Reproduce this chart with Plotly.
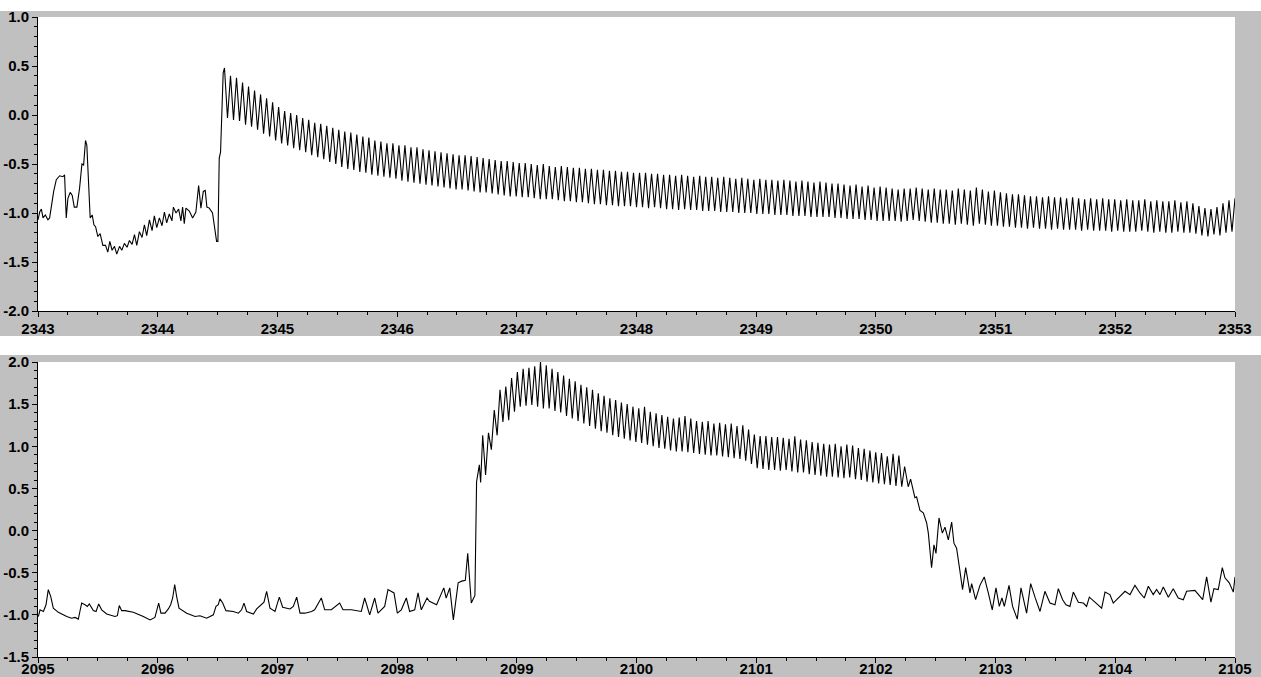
import numpy as np
import plotly.graph_objects as go

# ---------------- upper record: 2343 - 2353 ----------------
top_pre_t = [2343.000, 2343.014, 2343.028, 2343.042, 2343.061, 2343.083, 2343.097, 2343.111,
             2343.131, 2343.153, 2343.181, 2343.208, 2343.222, 2343.236, 2343.250, 2343.269,
             2343.286, 2343.303, 2343.325, 2343.347, 2343.367, 2343.381, 2343.397, 2343.408,
             2343.425, 2343.436, 2343.453, 2343.467, 2343.481, 2343.500, 2343.519, 2343.542,
             2343.564, 2343.583, 2343.600, 2343.619, 2343.639, 2343.658, 2343.681, 2343.700,
             2343.722, 2343.744, 2343.764, 2343.786, 2343.806, 2343.825, 2343.847, 2343.869,
             2343.889, 2343.908, 2343.931, 2343.953, 2343.972, 2343.992, 2344.014, 2344.036,
             2344.056, 2344.075, 2344.097, 2344.119, 2344.131, 2344.153, 2344.175, 2344.194,
             2344.208, 2344.222, 2344.236, 2344.264, 2344.292, 2344.319, 2344.342, 2344.361,
             2344.381, 2344.397, 2344.411, 2344.431, 2344.458, 2344.478, 2344.492, 2344.503,
             2344.514, 2344.525, 2344.536, 2344.547]
top_pre_v = [-1.07, -0.99, -0.96, -1.05, -1.02, -1.07, -1.05, -0.92,
             -0.78, -0.66, -0.62, -0.63, -0.61, -1.05, -0.85, -0.79,
             -0.82, -0.94, -0.94, -0.75, -0.50, -0.51, -0.26, -0.31,
             -0.85, -1.05, -1.02, -1.12, -1.14, -1.24, -1.21, -1.33,
             -1.33, -1.40, -1.29, -1.38, -1.34, -1.42, -1.34, -1.38,
             -1.31, -1.35, -1.28, -1.32, -1.22, -1.33, -1.19, -1.25,
             -1.12, -1.23, -1.07, -1.18, -1.03, -1.15, -1.05, -1.13,
             -0.99, -1.10, -1.01, -1.08, -0.94, -1.00, -0.96, -1.08,
             -0.94, -1.11, -0.95, -0.98, -1.05, -0.99, -0.72, -0.95,
             -0.78, -0.77, -0.94, -0.95, -1.00, -1.19, -1.29, -1.29,
             -0.44, -0.38, 0.17, 0.43]

# oscillating part: successive crest and trough values, evenly spaced in time
top_osc_start = 2344.558
top_osc_end = 2353.0
top_peaks = [
    0.48, 0.40, 0.38, 0.33, 0.29, 0.25, 0.21, 0.17, 0.13, 0.08,
    0.04, 0.02, 0.00, -0.03, -0.05, -0.08, -0.09, -0.11, -0.13, -0.15,
    -0.17, -0.18, -0.20, -0.22, -0.23, -0.26, -0.27, -0.29, -0.29, -0.31,
    -0.31, -0.33, -0.33, -0.35, -0.36, -0.37, -0.38, -0.39, -0.40, -0.41,
    -0.41, -0.42, -0.43, -0.44, -0.45, -0.46, -0.47, -0.47, -0.48, -0.49,
    -0.49, -0.50, -0.51, -0.50, -0.52, -0.53, -0.52, -0.53, -0.54, -0.54,
    -0.55, -0.55, -0.56, -0.56, -0.57, -0.57, -0.58, -0.58, -0.59, -0.59,
    -0.59, -0.60, -0.60, -0.61, -0.61, -0.62, -0.61, -0.62, -0.63, -0.62,
    -0.63, -0.63, -0.64, -0.63, -0.64, -0.65, -0.64, -0.65, -0.66, -0.65,
    -0.66, -0.66, -0.67, -0.66, -0.67, -0.68, -0.67, -0.68, -0.69, -0.68,
    -0.69, -0.70, -0.70, -0.71, -0.72, -0.71, -0.73, -0.72, -0.74, -0.73,
    -0.74, -0.75, -0.76, -0.75, -0.75, -0.74, -0.75, -0.76, -0.75, -0.76,
    -0.76, -0.77, -0.75, -0.76, -0.77, -0.74, -0.76, -0.78, -0.77, -0.79,
    -0.80, -0.81, -0.81, -0.82, -0.83, -0.83, -0.84, -0.83, -0.84, -0.84,
    -0.85, -0.84, -0.85, -0.86, -0.85, -0.86, -0.85, -0.86, -0.86, -0.87,
    -0.86, -0.87, -0.87, -0.86, -0.88, -0.87, -0.88, -0.88, -0.87, -0.89,
    -0.88, -0.90, -0.93, -0.95, -0.96, -0.94, -0.90, -0.87, -0.85]
top_troughs = [
    -0.03, -0.05, -0.06, -0.10, -0.12, -0.15, -0.19, -0.22, -0.26, -0.29,
    -0.31, -0.34, -0.36, -0.38, -0.41, -0.43, -0.45, -0.48, -0.50, -0.53,
    -0.55, -0.56, -0.58, -0.59, -0.61, -0.62, -0.63, -0.64, -0.65, -0.67,
    -0.68, -0.69, -0.70, -0.71, -0.72, -0.73, -0.74, -0.75, -0.76, -0.76,
    -0.77, -0.78, -0.79, -0.79, -0.80, -0.81, -0.82, -0.83, -0.83, -0.84,
    -0.84, -0.85, -0.86, -0.86, -0.86, -0.87, -0.88, -0.88, -0.89, -0.89,
    -0.90, -0.91, -0.91, -0.92, -0.92, -0.93, -0.93, -0.93, -0.94, -0.94,
    -0.95, -0.94, -0.95, -0.96, -0.96, -0.97, -0.96, -0.97, -0.97, -0.98,
    -0.98, -0.98, -0.99, -0.99, -0.99, -1.00, -1.00, -1.00, -1.01, -1.01,
    -1.01, -1.02, -1.02, -1.02, -1.03, -1.03, -1.03, -1.04, -1.04, -1.04,
    -1.04, -1.05, -1.05, -1.06, -1.06, -1.06, -1.07, -1.07, -1.08, -1.08,
    -1.08, -1.08, -1.09, -1.08, -1.07, -1.08, -1.09, -1.10, -1.10, -1.11,
    -1.11, -1.12, -1.11, -1.12, -1.13, -1.11, -1.12, -1.13, -1.13, -1.14,
    -1.14, -1.15, -1.15, -1.16, -1.15, -1.16, -1.16, -1.17, -1.16, -1.17,
    -1.17, -1.17, -1.18, -1.17, -1.18, -1.18, -1.18, -1.19, -1.18, -1.19,
    -1.19, -1.19, -1.18, -1.19, -1.20, -1.19, -1.20, -1.20, -1.19, -1.20,
    -1.20, -1.21, -1.23, -1.24, -1.22, -1.23, -1.20, -1.19]

# ---------------- lower record: 2095 - 2105 ----------------
bot_pre_t = [2095.003, 2095.017, 2095.045, 2095.067, 2095.086, 2095.106, 2095.128, 2095.170,
             2095.240, 2095.281, 2095.309, 2095.337, 2095.350, 2095.365, 2095.393, 2095.412,
             2095.429, 2095.462, 2095.485, 2095.507, 2095.532, 2095.574, 2095.643, 2095.663,
             2095.679, 2095.699, 2095.727, 2095.769, 2095.796, 2095.880, 2095.936, 2095.977,
             2095.991, 2096.008, 2096.027, 2096.061, 2096.089, 2096.108, 2096.125, 2096.142,
             2096.158, 2096.178, 2096.242, 2096.312, 2096.353, 2096.409, 2096.465, 2096.487,
             2096.506, 2096.520, 2096.543, 2096.570, 2096.632, 2096.674, 2096.701, 2096.721,
             2096.743, 2096.799, 2096.827, 2096.855, 2096.888, 2096.910, 2096.938, 2096.980,
             2097.016, 2097.044, 2097.105, 2097.133, 2097.161, 2097.189, 2097.230, 2097.286,
             2097.311, 2097.367, 2097.395, 2097.451, 2097.520, 2097.548, 2097.618, 2097.701,
             2097.729, 2097.771, 2097.813, 2097.840, 2097.896, 2097.924, 2097.974, 2098.002,
             2098.035, 2098.077, 2098.105, 2098.147, 2098.175, 2098.202, 2098.250, 2098.270,
             2098.330, 2098.390, 2098.410, 2098.440, 2098.470, 2098.510, 2098.540, 2098.570,
             2098.590, 2098.620, 2098.650, 2098.664, 2098.687, 2098.698]
bot_pre_v = [-1.02, -0.94, -0.96, -0.88, -0.70, -0.78, -0.92, -0.97,
             -1.02, -1.04, -1.03, -1.05, -0.96, -0.86, -0.88, -0.90,
             -0.87, -0.95, -0.96, -0.87, -0.94, -0.99, -1.02, -1.01,
             -0.89, -0.95, -0.95, -0.96, -0.97, -1.02, -1.06, -1.03,
             -0.95, -0.86, -0.98, -0.98, -0.93, -0.88, -0.80, -0.64,
             -0.78, -0.92, -0.98, -1.02, -1.01, -1.04, -1.00, -0.90,
             -0.88, -0.81, -0.86, -0.95, -0.96, -0.98, -0.94, -0.86,
             -0.96, -0.99, -0.93, -0.89, -0.85, -0.72, -0.92, -0.96,
             -0.79, -0.91, -0.93, -0.90, -0.79, -0.98, -0.98, -0.96,
             -0.94, -0.80, -0.94, -0.94, -0.86, -0.94, -0.94, -0.96,
             -0.80, -1.00, -0.80, -0.98, -0.90, -0.70, -0.74, -0.98,
             -0.94, -0.80, -0.96, -0.94, -0.74, -0.94, -0.80, -0.84,
             -0.88, -0.68, -0.80, -0.68, -1.06, -0.62, -0.60, -0.59,
             -0.27, -0.86, -0.77, 0.58, 0.78, 0.57]

bot_osc_start = 2098.715
bot_osc_end = 2102.240
bot_peaks = [
    1.13, 1.16, 1.43, 1.67, 1.71, 1.81, 1.88, 1.92, 1.93, 1.95,
    2.00, 1.96, 1.92, 1.88, 1.84, 1.80, 1.77, 1.73, 1.70, 1.67,
    1.63, 1.60, 1.57, 1.55, 1.52, 1.50, 1.47, 1.45, 1.47, 1.41,
    1.39, 1.37, 1.35, 1.33, 1.34, 1.36, 1.33, 1.30, 1.29, 1.30,
    1.27, 1.28, 1.26, 1.27, 1.24, 1.25, 1.20, 1.14, 1.12, 1.12,
    1.11, 1.11, 1.10, 1.09, 1.12, 1.08, 1.07, 1.05, 1.04, 1.03,
    1.02, 1.03, 1.00, 1.02, 1.01, 0.98, 0.97, 0.95, 0.93, 0.92,
    0.88, 0.91, 0.89, 0.76]
bot_troughs = [
    0.66, 0.96, 1.13, 1.29, 1.31, 1.41, 1.47, 1.48, 1.49, 1.47,
    1.45, 1.45, 1.42, 1.40, 1.36, 1.33, 1.30, 1.27, 1.24, 1.21,
    1.18, 1.16, 1.13, 1.11, 1.09, 1.07, 1.05, 1.04, 1.02, 1.00,
    0.98, 0.97, 0.95, 0.94, 0.94, 0.93, 0.92, 0.91, 0.90, 0.89,
    0.89, 0.88, 0.87, 0.86, 0.85, 0.83, 0.79, 0.74, 0.73, 0.72,
    0.72, 0.71, 0.72, 0.70, 0.69, 0.69, 0.67, 0.66, 0.65, 0.64,
    0.64, 0.63, 0.62, 0.63, 0.61, 0.60, 0.58, 0.57, 0.56, 0.55,
    0.54, 0.53, 0.52]

bot_post_t = [2102.270, 2102.290, 2102.326, 2102.340, 2102.368, 2102.396, 2102.424, 2102.438,
              2102.465, 2102.485, 2102.502, 2102.527, 2102.555, 2102.577, 2102.605, 2102.633,
              2102.652, 2102.674, 2102.697, 2102.724, 2102.750, 2102.786, 2102.800, 2102.833,
              2102.869, 2102.905, 2102.939, 2102.972, 2103.003, 2103.031, 2103.053, 2103.073,
              2103.112, 2103.142, 2103.181, 2103.212, 2103.259, 2103.293, 2103.329, 2103.371,
              2103.412, 2103.454, 2103.496, 2103.524, 2103.560, 2103.588, 2103.621, 2103.649,
              2103.691, 2103.733, 2103.760, 2103.783, 2103.830, 2103.886, 2103.914, 2103.955,
              2103.983, 2104.025, 2104.081, 2104.123, 2104.164, 2104.206, 2104.242, 2104.276,
              2104.317, 2104.345, 2104.373, 2104.401, 2104.443, 2104.484, 2104.526, 2104.568,
              2104.596, 2104.665, 2104.730, 2104.763, 2104.799, 2104.824, 2104.860, 2104.894,
              2104.916, 2104.952, 2104.986, 2105.000]
bot_post_v = [0.52, 0.61, 0.39, 0.40, 0.24, 0.21, 0.09, -0.03,
              -0.44, -0.17, -0.27, 0.15, -0.03, 0.04, -0.11, 0.10,
              -0.15, -0.21, -0.43, -0.70, -0.44, -0.74, -0.63, -0.82,
              -0.65, -0.55, -0.74, -0.94, -0.68, -0.90, -0.80, -0.90,
              -0.65, -0.90, -1.05, -0.68, -0.98, -0.63, -0.79, -0.96,
              -0.72, -0.86, -0.88, -0.69, -0.82, -0.88, -0.90, -0.73,
              -0.85, -0.86, -0.90, -0.79, -0.85, -0.92, -0.73, -0.76,
              -0.86, -0.80, -0.72, -0.76, -0.65, -0.74, -0.80, -0.66,
              -0.76, -0.70, -0.76, -0.67, -0.79, -0.69, -0.80, -0.82,
              -0.72, -0.71, -0.82, -0.55, -0.85, -0.69, -0.70, -0.44,
              -0.56, -0.62, -0.73, -0.55]

# axis ranges and tick labels
top_xrange = [2343, 2353]
top_yrange = [-2.0, 1.0]
bot_xrange = [2095, 2105]
bot_yrange = [-1.5, 2.0]
top_xticks = [2343, 2344, 2345, 2346, 2347, 2348, 2349, 2350, 2351, 2352, 2353]
bot_xticks = [2095, 2096, 2097, 2098, 2099, 2100, 2101, 2102, 2103, 2104, 2105]
top_yticks = [-2.0, -1.5, -1.0, -0.5, 0.0, 0.5, 1.0]
top_ylabels = ["-2.0", "-1.5", "-1.0", "-0.5", "0.0", "0.5", "1.0"]
bot_yticks = [-1.5, -1.0, -0.5, 0.0, 0.5, 1.0, 1.5, 2.0]
bot_ylabels = ["-1.5", "-1.0", "-0.5", "0.0", "0.5", "1.0", "1.5", "2.0"]


def crest_trough_series(start, end, crests, troughs):
    vals = []
    for c, t in zip(crests, troughs):
        vals += [c, t]
    vals.append(crests[len(troughs)])
    times = np.linspace(start, end, len(vals))
    return list(times), vals


t_osc, v_osc = crest_trough_series(top_osc_start, top_osc_end, top_peaks, top_troughs)
top_t = top_pre_t + t_osc
top_v = top_pre_v + v_osc

b_osc_t, b_osc_v = crest_trough_series(bot_osc_start, bot_osc_end, bot_peaks, bot_troughs)
bot_t = bot_pre_t + b_osc_t + bot_post_t
bot_v = bot_pre_v + b_osc_v + bot_post_v

W, H = 1261, 677
GRAY = "#C0C0C0"

fig = go.Figure()
fig.add_trace(go.Scatter(x=top_t, y=top_v, mode="lines", xaxis="x", yaxis="y",
                         line=dict(color="black", width=1.1), showlegend=False))
fig.add_trace(go.Scatter(x=bot_t, y=bot_v, mode="lines", xaxis="x2", yaxis="y2",
                         line=dict(color="black", width=1.1), showlegend=False))

tickfont = dict(family="Liberation Sans Narrow, Liberation Sans, Arial, sans-serif",
                size=15, color="black", weight="bold")


def xaxis_style(rng, ticks, anchor, standoff):
    return dict(range=rng, domain=[38 / W, 1235 / W], anchor=anchor,
                tickmode="array", tickvals=ticks, ticktext=[str(t) for t in ticks],
                ticks="outside", ticklen=5, tickwidth=1, tickcolor="black",
                ticklabelstandoff=standoff,
                showline=True, linecolor="black", linewidth=1, mirror=False,
                showgrid=False, zeroline=False, tickfont=tickfont, automargin=False,
                minor=dict(dtick=0.25, tick0=rng[0], ticks="outside", ticklen=3,
                           tickcolor="black", tickwidth=1, showgrid=False))


def yaxis_style(rng, ticks, labels, anchor, top_px, bottom_px):
    return dict(range=rng, domain=[1 - bottom_px / H, 1 - top_px / H], anchor=anchor,
                tickmode="array", tickvals=ticks, ticktext=labels,
                ticks="outside", ticklen=5, tickwidth=1, tickcolor="black",
                showline=True, linecolor="black", linewidth=1, mirror=False,
                showgrid=False, zeroline=False, tickfont=tickfont, automargin=False,
                minor=dict(dtick=0.1, tick0=0, ticks="outside", ticklen=3,
                           tickcolor="black", tickwidth=1, showgrid=False))


fig.update_layout(
    width=W, height=H,
    margin=dict(l=0, r=0, t=0, b=0),
    paper_bgcolor=GRAY,
    plot_bgcolor="white",
    xaxis=xaxis_style(top_xrange, top_xticks, "y", -1),
    yaxis=yaxis_style(top_yrange, top_yticks, top_ylabels, "x", 17, 311),
    xaxis2=xaxis_style(bot_xrange, bot_xticks, "y2", -7),
    yaxis2=yaxis_style(bot_yrange, bot_yticks, bot_ylabels, "x2", 362, 657),
    shapes=[
        dict(type="rect", xref="paper", yref="paper", x0=0, x1=1, y0=1 - 11 / H, y1=1,
             fillcolor="white", line=dict(width=0), layer="below"),
        dict(type="rect", xref="paper", yref="paper", x0=0, x1=1, y0=1 - 355 / H, y1=1 - 336 / H,
             fillcolor="white", line=dict(width=0), layer="below"),
    ],
)

fig.write_html("out.html")
